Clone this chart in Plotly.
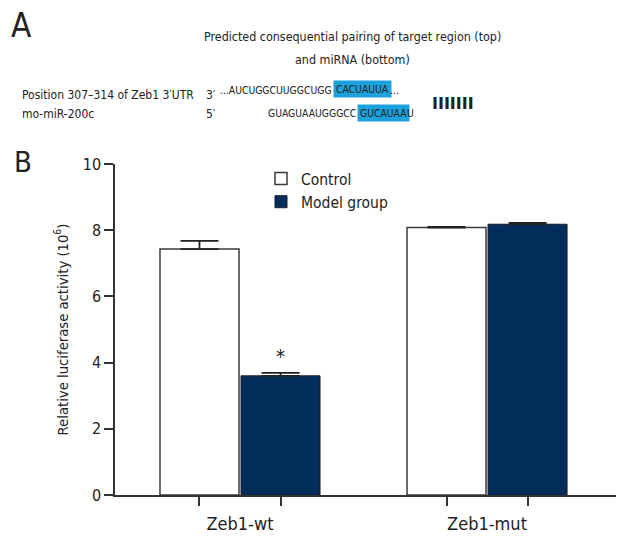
import plotly.graph_objects as go

# ---------------- data ----------------
categories = ["Zeb1-wt", "Zeb1-mut"]
control_vals = [7.43, 8.08]
control_err = [0.25, 0.02]
model_vals = [3.60, 8.18]
model_err = [0.09, 0.04]
y_ticks = [0, 2, 4, 6, 8, 10]

FONT = "DejaVu Sans Condensed, DejaVu Sans, sans-serif"
NAVY = "#032d5a"
CYAN = "#1ba1dc"
INK = "#222222"

# plot area in pixels
L, R, T, B = 115, 616, 164, 495
W, H = R - L, B - T


def px(x):
    return (x - L) / W


def py(y):
    return (B - y) / H


BARGAP = 0.344
BARGROUPGAP = 0.025
XR = [-0.506, 1.522]

fig = go.Figure()
fig.add_trace(go.Bar(
    name="Control", x=categories, y=control_vals,
    marker=dict(color="white", line=dict(color="#3a3a3a", width=1.5)),
    error_y=dict(type="data", array=control_err, arrayminus=[0, 0], symmetric=False,
                 color=INK, thickness=1.8, width=19),
))
fig.add_trace(go.Bar(
    name="Model group", x=categories, y=model_vals,
    marker=dict(color=NAVY, line=dict(color="#1a1a2a", width=1)),
    error_y=dict(type="data", array=model_err, arrayminus=[0, 0], symmetric=False,
                 color=INK, thickness=1.8, width=19),
))

# tick positions at bar centres (on an overlaid numeric axis)
slot = (1 - BARGAP) / 2
bar_centres = []
for i in range(len(categories)):
    bar_centres += [i - slot / 2, i + slot / 2]

fig.add_trace(go.Scatter(x=[XR[0]], y=[0], xaxis="x2", mode="markers",
                         marker=dict(opacity=0), showlegend=False, hoverinfo="skip"))

fig.update_layout(
    width=640, height=560,
    margin=dict(l=L, r=640 - R, t=T, b=560 - B, autoexpand=False),
    paper_bgcolor="white", plot_bgcolor="white",
    barmode="group", bargap=BARGAP, bargroupgap=BARGROUPGAP,
    font=dict(family=FONT, color=INK, size=16),
    xaxis=dict(type="category", range=XR, showline=True, linecolor="#333", linewidth=1.5,
               ticks="", showgrid=False, zeroline=False, automargin=False,
               tickfont=dict(size=18, family=FONT), ticklabelstandoff=12),
    xaxis2=dict(overlaying="x", range=XR, side="bottom", tickvals=bar_centres,
                showticklabels=False, ticks="outside", ticklen=10, tickwidth=1.5,
                tickcolor="#333", showgrid=False, zeroline=False, showline=False,
                automargin=False),
    yaxis=dict(range=[0, 10], tickvals=y_ticks, showline=True, linecolor="#333",
               linewidth=1.5, ticks="outside", ticklen=9, tickwidth=1.5, tickcolor="#333",
               showgrid=False, zeroline=False, tickfont=dict(size=16, family=FONT),
               automargin=False,
               title=dict(text="Relative luciferase activity (10<sup>6</sup>)",
                          font=dict(size=14.7, family=FONT), standoff=11)),
    legend=dict(x=px(261), y=py(162), xanchor="left", yanchor="top",
                bgcolor="rgba(0,0,0,0)", font=dict(size=15.5, family=FONT),
                tracegroupgap=0),
    showlegend=True,
)

ann = []


def text(x, y, s, size, xanchor="left", bg=None, family=FONT, pad=0):
    d = dict(x=px(x), y=py(y), xref="paper", yref="paper", text=s, showarrow=False,
             xanchor=xanchor, yanchor="middle", font=dict(size=size, family=family, color=INK),
             borderpad=pad)
    if bg:
        d["bgcolor"] = bg
    ann.append(d)


SEQ = 10.3
text(10, 26, "A", 33)
text(13, 162, "B", 29)
text(352, 37, "Predicted consequential pairing of target region (top)", 12.4, "center")
text(352, 59, "and miRNA (bottom)", 12.4, "center")
text(21, 95, "Position 307–314 of Zeb1 3′UTR", 12)
text(21, 114, "mo-miR-200c", 12)
text(205, 95, "3′", 12)
text(205, 114, "5′", 12)
# target row
text(333, 90, "...AUCUGGCUUGGCUGG", SEQ, "right")
text(333, 89, "CACUAUUA", SEQ, "left", bg=CYAN, pad=2)
text(389, 90, "...", SEQ, "left")
# miRNA row
text(357, 113, "GUAGUAAUGGGCC", SEQ, "right")
text(357, 113, "GUCAUAA", SEQ, "left", bg=CYAN, pad=2)
text(406, 113, "U", SEQ, "left")
text(453, 103, "<b>IIIIIII</b>", 16, "center", family="DejaVu Sans")

# significance asterisk
ann.append(dict(x=bar_centres[1], y=model_vals[0] + model_err[0], xref="x2", yref="y",
                text="*", showarrow=False, yanchor="bottom", yshift=3,
                font=dict(size=20, family=FONT, color=INK)))

fig.update_layout(annotations=ann)
fig.write_html("out.html", config={"displayModeBar": False},
               post_script="document.body.style.margin='0px';")
